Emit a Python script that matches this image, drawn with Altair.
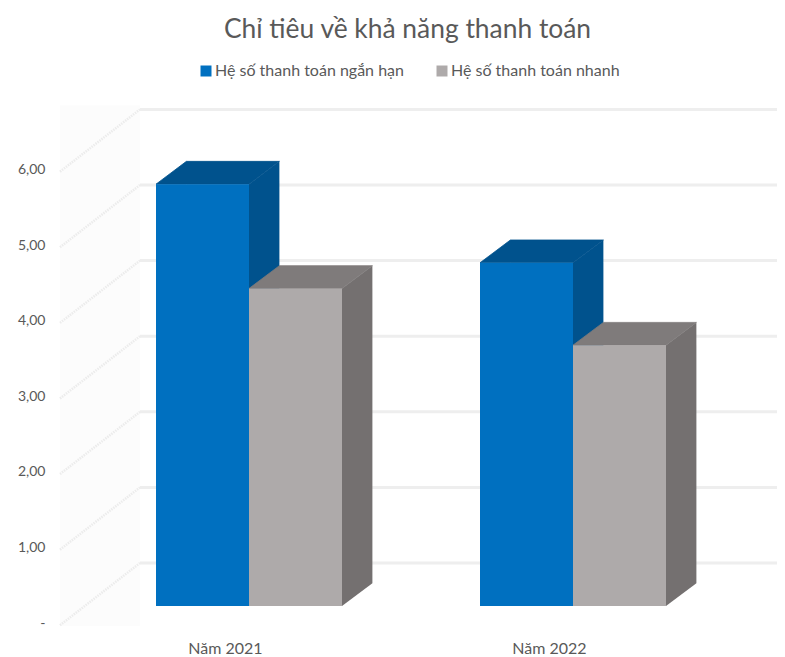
import altair as alt
import pandas as pd

TITLE = "Chỉ tiêu về khả năng thanh toán"
CATEGORIES = ["Năm 2021", "Năm 2022"]
SERIES = ["Hệ số thanh toán ngắn hạn", "Hệ số thanh toán nhanh"]
SHORT_TERM = [5.58, 4.54]
QUICK = [4.20, 3.45]
TICKS = [0, 1, 2, 3, 4, 5, 6]

FRONT = ["#0070c0", "#aeaaaa"]
TOP = ["#00528d", "#7f7b7b"]
SIDE = ["#00528d", "#747070"]
FONT = "Lato"
TEXT = "#595959"

# oblique projection, expressed in data units
PX_X, PX_Y = 324.0, 75.6
WALL_DX, WALL_DY = 80 / PX_X, 60 / PX_Y
D0X, D0Y, DEPTH = 0.30, 0.283, 0.38
BAR_W = 93 / PX_X
X_DOM = [(60 - 225) / PX_X, (777 - 225) / PX_X]
Y_DOM = [(623 - 630) / PX_Y, (623 - 100) / PX_Y]

front, top, side = [], [], []
for s, (name, vals) in enumerate(zip(SERIES, [SHORT_TERM, QUICK])):
    for c, v in enumerate(vals):
        x0 = c + D0X * WALL_DX + (s - 1) * BAR_W
        x1 = x0 + BAR_W
        y0 = D0Y * WALL_DY
        yt = v + y0
        ddx, ddy = DEPTH * WALL_DX, DEPTH * WALL_DY
        front.append(dict(series=name, s=s, x=x0, x2=x1, y=yt, y2=y0))
        k = f"{s}-{c}"
        top += [dict(k=k, s=s, x=x0, y=yt, y2=yt),
                dict(k=k, s=s, x=x0 + ddx, y=yt, y2=yt + ddy),
                dict(k=k, s=s, x=x1, y=yt, y2=yt + ddy),
                dict(k=k, s=s, x=x1 + ddx, y=yt + ddy, y2=yt + ddy)]
        side += [dict(k=k, s=s, x=x1, y=y0, y2=yt),
                 dict(k=k, s=s, x=x1 + ddx, y=y0 + ddy, y2=yt + ddy)]
front, top, side = map(pd.DataFrame, (front, top, side))

wall = pd.DataFrame([dict(t=t, x=X_DOM[0], y=t - 0.03) for t in TICKS] +
                    [dict(t=t, x=X_DOM[0] + WALL_DX, y=t + WALL_DY) for t in TICKS])
back = pd.DataFrame([dict(t=t, x=X_DOM[0] + WALL_DX, y=t + WALL_DY) for t in TICKS] +
                    [dict(t=t, x=X_DOM[1], y=t + WALL_DY) for t in TICKS])
wall_bg = pd.DataFrame([dict(x=X_DOM[0], x2=X_DOM[0] + WALL_DX, y=6.85, y2=-0.04)])

xs = alt.Scale(domain=X_DOM, nice=False, zero=False)
ys = alt.Scale(domain=Y_DOM, nice=False, zero=False)
X = alt.X("x:Q", scale=xs, title=None, axis=alt.Axis(
    values=[0, 1], grid=False, domain=False, ticks=False, labelFontSize=16,
    labelColor=TEXT, labelFont=FONT, labelPadding=10,
    labelExpr=f"datum.value < 0.5 ? '{CATEGORIES[0]}' : '{CATEGORIES[1]}'"))
Y = alt.Y("y:Q", scale=ys, title=None, axis=alt.Axis(
    values=TICKS, grid=False, domain=False, ticks=False, labelFontSize=14,
    labelColor=TEXT, labelFont=FONT, labelPadding=15,
    labelExpr="datum.value == 0 ? '-\u00a0\u00a0\u00a0' : replace(format(datum.value, '.2f'), '.', ',')"))

layers = [
    alt.Chart(wall_bg).mark_rect(color="#fcfcfc").encode(X, x2="x2:Q", y=Y, y2="y2:Q"),
    alt.Chart(wall).mark_line(color="#ececec", strokeWidth=2.5, strokeDash=[1.5, 1]).encode(X, Y, detail="t:N"),
    alt.Chart(back).mark_line(color="#eeeeee", strokeWidth=3).encode(X, Y, detail="t:N"),
]
color = alt.Color("series:N", scale=alt.Scale(domain=SERIES, range=FRONT), sort=SERIES, legend=alt.Legend(
    orient="none", legendX=138, legendY=-37, direction="horizontal", title=None,
    symbolType="square", symbolSize=121, symbolStrokeWidth=0, labelFontSize=16, labelFont=FONT,
    labelColor=TEXT, labelLimit=300, columnPadding=30, labelOffset=1, padding=0))
for s in range(2):
    layers += [
        alt.Chart(side[side.s == s]).mark_area(color=SIDE[s], orient="vertical").encode(X, Y, y2="y2:Q", detail="k:N"),
        alt.Chart(top[top.s == s]).mark_area(color=TOP[s], orient="vertical", stroke=TOP[s], strokeWidth=0.8).encode(X, Y, y2="y2:Q", detail="k:N"),
        alt.Chart(front[front.s == s]).mark_rect().encode(X, x2="x2:Q", y=Y, y2="y2:Q", color=color),
    ]

chart = alt.layer(*layers).properties(
    width=717, height=530,
    title=alt.TitleParams(TITLE, fontSize=26.4, font=FONT, fontWeight="normal", color=TEXT,
                          anchor="middle", dx=-11, offset=20),
    padding={"left": 52, "top": 92, "right": 0, "bottom": 27},
    autosize=alt.AutoSizeParams(type="none"),
).configure_view(stroke=None)

chart.save("out.html", embed_options={"renderer": "svg", "actions": False})
